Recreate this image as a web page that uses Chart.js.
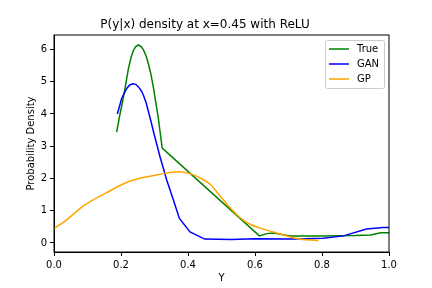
<!DOCTYPE html>
<html>
<head>
<meta charset="utf-8">
<script src="https://cdn.jsdelivr.net/npm/chart.js@4/dist/chart.umd.min.js"></script>
<style>
  html, body { margin: 0; padding: 0; background: #fff; }
  #wrap { width: 432px; height: 288px; }
</style>
</head>
<body>
<div id="wrap"><canvas id="densityChart" width="432" height="288"></canvas></div>
<script>
// values
const trueX = [0.187, 0.197, 0.207, 0.215, 0.222, 0.23, 0.237, 0.244, 0.252, 0.26, 0.267, 0.275, 0.282, 0.29, 0.297, 0.304, 0.311, 0.317, 0.323, 0.613, 0.635, 0.655, 0.704, 0.8, 0.9, 0.945, 0.975, 1.0];
const trueY = [3.44, 4.0, 4.5, 4.98, 5.4, 5.75, 5.97, 6.09, 6.14, 6.09, 5.99, 5.8, 5.55, 5.2, 4.8, 4.35, 3.9, 3.42, 2.94, 0.22, 0.29, 0.31, 0.22, 0.22, 0.23, 0.25, 0.32, 0.32];

const ganX = [0.189, 0.202, 0.217, 0.226, 0.235, 0.244, 0.252, 0.26, 0.267, 0.275, 0.282, 0.29, 0.297, 0.316, 0.336, 0.356, 0.374, 0.406, 0.45, 0.53, 0.6, 0.72, 0.804, 0.864, 0.933, 0.983, 1.0];
const ganY = [4.0, 4.48, 4.79, 4.9, 4.94, 4.92, 4.84, 4.73, 4.58, 4.35, 4.07, 3.75, 3.45, 2.69, 1.97, 1.35, 0.77, 0.34, 0.12, 0.11, 0.13, 0.12, 0.15, 0.22, 0.43, 0.48, 0.48];

const gpX = [0, 0.028, 0.088, 0.157, 0.227, 0.287, 0.376, 0.406, 0.436, 0.466, 0.496, 0.525, 0.555, 0.585, 0.625, 0.675, 0.724, 0.789];
const gpY = [0.45, 0.64, 1.15, 1.56, 1.92, 2.07, 2.21, 2.15, 2.02, 1.82, 1.46, 1.1, 0.79, 0.58, 0.43, 0.28, 0.14, 0.07];

const xTicks = [0, 0.2, 0.4, 0.6, 0.8, 1.0];
const yTicks = [0, 1, 2, 3, 4, 5, 6];

const toPoints = (xs, ys) => xs.map((x, i) => ({ x: x, y: ys[i] }));

const FONT = 'DejaVu Sans';

// frame round the plot plus the boxed legend in the upper right
const framePlugin = {
    id: 'frame',
    afterDraw(chart) {
        const ctx = chart.ctx;
        const a = chart.chartArea;
        ctx.save();
        ctx.strokeStyle = '#000';
        ctx.lineWidth = 1;
        ctx.strokeRect(a.left, a.top, a.right - a.left, a.bottom - a.top);

        // legend
        const bx = a.right - 64, by = a.top + 5, bw = 59, bh = 48;
        ctx.fillStyle = 'rgba(255,255,255,0.8)';
        ctx.strokeStyle = '#cccccc';
        ctx.beginPath();
        ctx.roundRect(bx + 0.5, by + 0.5, bw, bh, 2);
        ctx.fill();
        ctx.stroke();
        ctx.font = '10px "' + FONT + '"';
        ctx.textBaseline = 'middle';
        chart.data.datasets.forEach((ds, i) => {
            const yy = by + 9 + i * 15;
            ctx.strokeStyle = ds.borderColor;
            ctx.lineWidth = 1.5;
            ctx.beginPath();
            ctx.moveTo(bx + 4, yy);
            ctx.lineTo(bx + 24, yy);
            ctx.stroke();
            ctx.fillStyle = '#000';
            ctx.fillText(ds.label, bx + 32, yy);
        });
        ctx.restore();
    }
};

const ctx = document.getElementById('densityChart').getContext('2d');
new Chart(ctx, {
    type: 'line',
    data: {
        datasets: [
            { label: 'True', data: toPoints(trueX, trueY), borderColor: '#008000', order: 2, tension: 0 },
            { label: 'GAN', data: toPoints(ganX, ganY), borderColor: '#0000ff', order: 1, tension: 0 },
            { label: 'GP', data: toPoints(gpX, gpY), borderColor: '#ffa500', order: 0, cubicInterpolationMode: 'monotone' }
        ]
    },
    options: {
        responsive: false,
        animation: false,
        devicePixelRatio: 1,
        datasets: {
            line: {
                borderWidth: 1.5,
                pointRadius: 0,
                fill: false
            }
        },
        layout: { padding: { left: 21, right: 43, top: 0, bottom: 0 } },
        plugins: {
            legend: { display: false },
            tooltip: { enabled: false },
            title: {
                display: true,
                text: 'P(y|x) density at x=0.45 with ReLU',
                color: '#000',
                font: { family: FONT, size: 12, weight: 'normal' },
                padding: { top: 17.8, bottom: 2.8 }
            }
        },
        scales: {
            x: {
                type: 'linear',
                min: 0,
                max: 1,
                afterFit(scale) { scale.height = 36; },
                afterBuildTicks(scale) { scale.ticks = xTicks.map(v => ({ value: v })); },
                grid: { drawOnChartArea: false, drawTicks: true, tickLength: 4, color: '#000' },
                border: { display: true, color: '#000' },
                ticks: {
                    color: '#000',
                    padding: 3,
                    maxRotation: 0,
                    font: { family: FONT, size: 10 },
                    callback: v => v.toFixed(1)
                },
                title: {
                    display: true,
                    text: 'Y',
                    color: '#000',
                    font: { family: FONT, size: 10 },
                    padding: { top: 4, bottom: 4 }
                }
            },
            y: {
                type: 'linear',
                min: -0.28,
                max: 6.45,
                afterFit(scale) { scale.width = 33; },
                afterBuildTicks(scale) { scale.ticks = yTicks.map(v => ({ value: v })); },
                grid: { drawOnChartArea: false, drawTicks: true, tickLength: 4, color: '#000' },
                border: { display: true, color: '#000' },
                ticks: {
                    color: '#000',
                    padding: 3,
                    font: { family: FONT, size: 10 },
                    callback: v => String(v)
                },
                title: {
                    display: true,
                    text: 'Probability Density',
                    color: '#000',
                    font: { family: FONT, size: 10 },
                    padding: { top: 4, bottom: 4 }
                }
            }
        }
    },
    plugins: [framePlugin]
});
</script>
</body>
</html>
